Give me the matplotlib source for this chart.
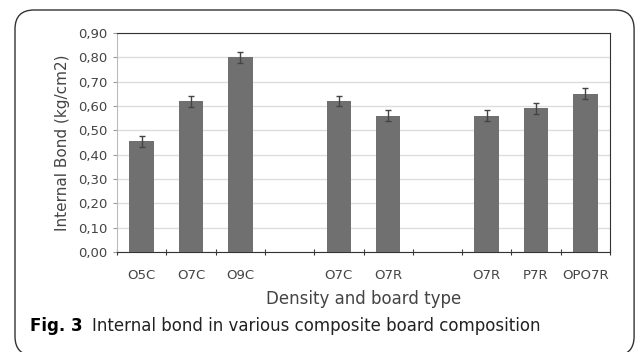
import matplotlib.pyplot as plt
import numpy as np
from matplotlib.patches import FancyBboxPatch
from matplotlib.ticker import FuncFormatter

# values (empty labels are the gaps between groups)
labels = ['O5C', 'O7C', 'O9C', '', 'O7C', 'O7R', '', 'O7R', 'P7R', 'OPO7R']
values = [0.455, 0.62, 0.80, np.nan, 0.62, 0.56, np.nan, 0.56, 0.59, 0.65]
errors = [0.023, 0.023, 0.023, np.nan, 0.022, 0.022, np.nan, 0.022, 0.022, 0.022]

fig = plt.figure(figsize=(6.36, 3.52), dpi=100)

# rounded frame around the figure
box = FancyBboxPatch((15/636, -0.01), (636-15)/636 - 0.003, (352-10)/352 + 0.01,
                     boxstyle='round,pad=0,rounding_size=0.03',
                     transform=fig.transFigure, fill=False,
                     edgecolor='#333333', linewidth=1.0, mutation_aspect=636/352)
fig.patches.append(box)

ax = fig.add_axes([117/636, 1-252/352, (610-117)/636, (252-33)/352])
x = np.arange(len(labels))
ax.bar(x, values, width=0.5, color='#707070', zorder=3)
ax.errorbar(x, values, yerr=errors, fmt='none', ecolor='#444444',
            elinewidth=1.0, capsize=2.5, capthick=1.0, zorder=4)

ax.set_xlim(-0.5, len(labels) - 0.5)
ax.set_ylim(0, 0.90)
ax.set_yticks(np.arange(0, 0.91, 0.10))
ax.yaxis.set_major_formatter(FuncFormatter(lambda v, p: f'{v:.2f}'.replace('.', ',')))
ax.yaxis.grid(True, color='#dddddd', linewidth=1.0, zorder=0)

# tick marks between categories, labels at centres
ax.set_xticks(np.arange(-0.5, len(labels) - 0.4, 1.0))
ax.set_xticklabels([])
ax.set_xticks(x, minor=True)
ax.set_xticklabels(labels, minor=True)
ax.tick_params(axis='x', which='major', direction='inout', length=5, color='#333333')
ax.tick_params(axis='x', which='minor', length=0, pad=12, labelsize=9.5, labelcolor='#444444')
ax.tick_params(axis='y', direction='out', length=3, color='#999999', labelsize=9.5,
               labelcolor='#444444', pad=4)

for s in ['top', 'right', 'bottom']:
    ax.spines[s].set_color('#333333')
ax.spines['left'].set_color('#bbbbbb')

ax.set_xlabel('Density and board type', fontsize=12, color='#444444', labelpad=6)
ax.set_ylabel('Internal Bond (kg/cm2)', fontsize=11, color='#444444', labelpad=6)

fig.text(30/636, 1-326/352, 'Fig. 3', fontsize=12, fontweight='bold', va='center', ha='left')
fig.text(92/636, 1-326/352, 'Internal bond in various composite board composition',
         fontsize=12, va='center', ha='left', color='#222222')

plt.savefig('out.png', dpi=100)
